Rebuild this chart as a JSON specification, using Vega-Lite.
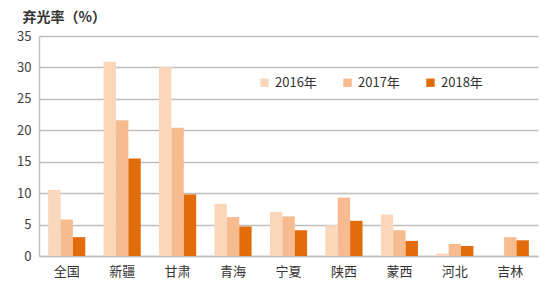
{
  "$schema": "https://vega.github.io/schema/vega-lite/v6.json",
  "width": 499,
  "height": 220,
  "autosize": {"type": "none"},
  "padding": {"left": 39, "top": 36, "right": 12, "bottom": 38},
  "background": "white",
  "config": {"view": {"stroke": null}, "font": "Noto Sans CJK SC"},
  "data": {
    "values": [
      {"region": "全国", "year": "2016年", "rate": 10.5},
      {"region": "全国", "year": "2017年", "rate": 5.8},
      {"region": "全国", "year": "2018年", "rate": 3.0},
      {"region": "新疆", "year": "2016年", "rate": 30.9},
      {"region": "新疆", "year": "2017年", "rate": 21.6},
      {"region": "新疆", "year": "2018年", "rate": 15.5},
      {"region": "甘肃", "year": "2016年", "rate": 30.1},
      {"region": "甘肃", "year": "2017年", "rate": 20.4},
      {"region": "甘肃", "year": "2018年", "rate": 9.8},
      {"region": "青海", "year": "2016年", "rate": 8.3},
      {"region": "青海", "year": "2017年", "rate": 6.2},
      {"region": "青海", "year": "2018年", "rate": 4.7},
      {"region": "宁夏", "year": "2016年", "rate": 7.0},
      {"region": "宁夏", "year": "2017年", "rate": 6.3},
      {"region": "宁夏", "year": "2018年", "rate": 4.1},
      {"region": "陕西", "year": "2016年", "rate": 4.9},
      {"region": "陕西", "year": "2017年", "rate": 9.3},
      {"region": "陕西", "year": "2018年", "rate": 5.6},
      {"region": "蒙西", "year": "2016年", "rate": 6.6},
      {"region": "蒙西", "year": "2017年", "rate": 4.1},
      {"region": "蒙西", "year": "2018年", "rate": 2.4},
      {"region": "河北", "year": "2016年", "rate": 0.4},
      {"region": "河北", "year": "2017年", "rate": 1.9},
      {"region": "河北", "year": "2018年", "rate": 1.6},
      {"region": "吉林", "year": "2017年", "rate": 3.0},
      {"region": "吉林", "year": "2018年", "rate": 2.5}
    ]
  },
  "mark": {"type": "bar"},
  "encoding": {
    "x": {
      "field": "region", "type": "nominal", "sort": null,
      "scale": {"paddingInner": 0.33, "paddingOuter": 0.165},
      "axis": {"title": null, "labelAngle": 0, "labelFontSize": 13, "labelColor": "#333333", "labelPadding": 9, "ticks": false, "domainColor": "#bfbfbf", "domainWidth": 1.5}
    },
    "xOffset": {"field": "year", "type": "nominal", "scale": {"paddingInner": 0, "paddingOuter": 0}},
    "y": {
      "field": "rate", "type": "quantitative",
      "scale": {"domain": [0, 35]},
      "axis": {"title": "弃光率（%）", "titleAngle": 0, "titleAlign": "left", "titleX": -17, "titleY": -19, "titleBaseline": "middle", "titleFontSize": 14, "titleFontWeight": "bold", "titleColor": "#333333",
        "values": [0, 5, 10, 15, 20, 25, 30, 35], "labelFontSize": 13, "labelColor": "#404040", "labelPadding": 8, "ticks": false, "domain": true, "domainColor": "#bfbfbf", "domainWidth": 1.5, "gridColor": "#bfbfbf", "gridWidth": 1.5}
    },
    "color": {
      "field": "year", "type": "nominal",
      "scale": {"domain": ["2016年", "2017年", "2018年"], "range": ["#fad6ba", "#f6bc8f", "#e36c0a"]},
      "legend": {"title": null, "orient": "none", "legendX": 219, "legendY": 40, "direction": "horizontal", "columns": 3, "symbolType": "square", "symbolSize": 70, "symbolStrokeWidth": 0, "labelFontSize": 13, "labelColor": "#333333", "labelOffset": 4, "columnPadding": 24}
    }
  }
}
